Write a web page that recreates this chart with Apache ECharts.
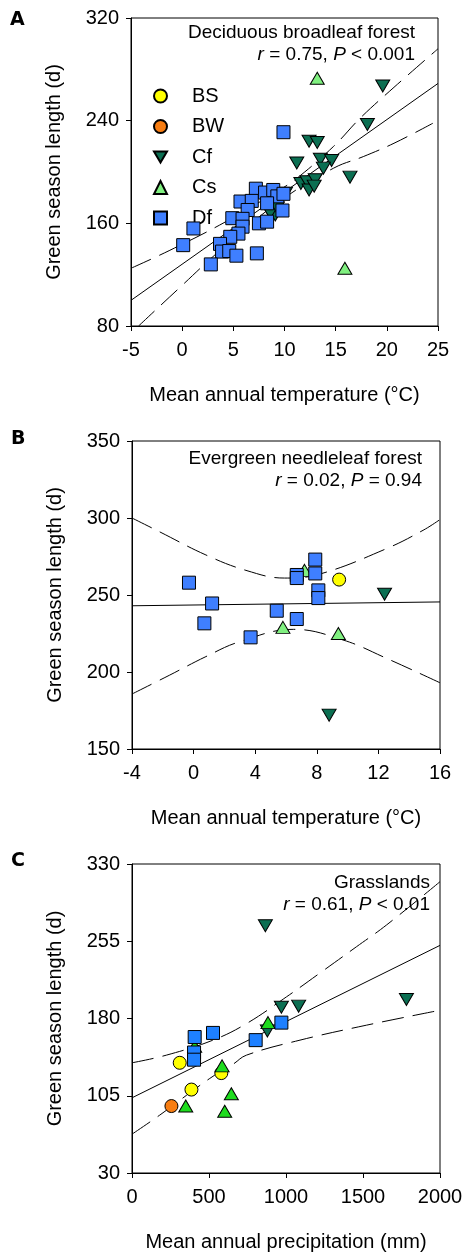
<!DOCTYPE html>
<html><head><meta charset="utf-8">
<script src="https://cdn.jsdelivr.net/npm/echarts@6/dist/echarts.min.js"></script>
<style>html,body{margin:0;padding:0;background:#fff}#c{width:466px;height:1255px}</style>
</head><body><div id="c"></div>
<script>
// ---------- Panel A: Deciduous broadleaf forest (x: mean annual temperature, y: green season length)
const A_Cf = [[19.6,267],[18.1,237],[12.4,224],[13.2,223],[11.2,207],[13.5,210],[14.6,209],[13.8,203],[16.4,196],[11.6,191],[12.2,192.4],[13.0,194],[12.4,186],[12.9,189],[10.1,183.4],[9.1,166.5],[8.45,170.4],[8.6,168],[9.3,172]];
const A_Cs = [[13.2,273],[15.9,125]];
const A_Df = [[9.9,231],[7.2,187],[8.1,184],[8.9,186],[9.3,181],[9.9,183],[5.7,177],[6.8,177.5],[8.3,175.6],[6.4,170.4],[9.8,170],[4.9,164],[5.9,163.5],[7.5,160],[8.3,161.3],[5.9,157.4],[1.1,156],[5.5,152],[4.7,149.5],[3.7,144],[0.1,143],[3.9,138],[4.6,138.4],[5.3,134.8],[7.3,136.6],[2.8,128]];
const A_fit = [[-5,100],[25,269]];
const A_upper = [[-5,125],[-1.2,139],[4.2,161],[9.5,186],[11.2,195],[14.8,220],[17.4,242],[20.7,266],[25,296]];
const A_lower = [[-4.26,80],[-0.5,108],[4,141],[9.5,177],[14.8,203],[17.7,212],[20.7,222.4],[24.5,238]];
const A_xTicks = [-5,0,5,10,15,20,25];
const A_yTicks = [80,160,240,320];

// ---------- Panel B: Evergreen needleleaf forest
const B_BS = [[9.45,260]];
const B_Cf = [[12.4,250.5],[8.8,172]];
const B_Cs = [[7.2,266],[5.8,229],[9.4,225]];
const B_Df = [[-0.3,258],[7.9,273],[6.7,263],[6.7,261],[7.9,264],[8.1,253],[8.1,248],[1.2,244.5],[0.7,231.6],[5.4,239.8],[6.7,234.4],[3.7,222.5]];
const B_fit = [[-4,243],[16,245.5]];
const B_upper = [[-4,300],[-2.2,291],[0.8,276],[3.4,266],[5.9,261],[8.2,263.6],[12.5,280],[14.9,292],[16,299]];
const B_lower = [[-4,185.7],[-1.55,198],[0.8,210],[3,219.7],[6.5,227.7],[9.7,220.8],[12.5,209],[16,193]];
const B_xTicks = [-4,0,4,8,12,16];
const B_yTicks = [150,200,250,300,350];

// ---------- Panel C: Grasslands (x: mean annual precipitation)
const C_BS = [[310,137],[580,127],[386,111]];
const C_BW = [[256,95]];
const C_Cf = [[866,270],[970,191],[1082,192],[1782,198.5],[879,168]];
const C_Cs = [[883,176],[407,153],[585,134],[349,95],[645,107],[602,90]];
const C_Df = [[970,176],[803,159],[526,166],[407,162],[403,147],[403,140]];
const C_fit = [[0,103],[2000,251]];
const C_upper = [[0,137],[223,144.4],[526,159],[743,175],[1003,201],[1219,224],[1457,249.6],[1652,270.7],[2000,312.8]];
const C_lower = [[0,67.7],[180,86.2],[505,121.8],[656,135.6],[743,144.4],[1091,159],[1522,173.5],[2000,188]];
const C_xTicks = [0,500,1000,1500,2000];
const C_yTicks = [30,105,180,255,330];

const FONT = '"Liberation Sans", Arial, sans-serif';
const COL = {BS:'#FFFF00', BW:'#F77D12', Cf:'#0B6F52', Cs:'#80F080', Df:'#3F7FFF'};
const COL_C = {Cs:'#1EDC1E', Df:'#1E80FF'};
const DOWN_TRI = 'path://M0,0 L20,0 L10,17 Z';
const SYM = {BS:'circle', BW:'circle', Cf:DOWN_TRI, Cs:'triangle', Df:'rect'};
const SIZE = {BS:13, BW:13, Cf:[14,12], Cs:[14,12], Df:13};

function scatter(name, data, gi, color){
  return {type:'scatter', name, data, xAxisIndex:gi, yAxisIndex:gi,
    symbol:SYM[name], symbolSize:SIZE[name],
    itemStyle:{color, borderColor:'#000', borderWidth:1, opacity:1},
    emphasis:{disabled:true}, z:5, animation:false};
}
function line(data, gi, dashed){
  return {type:'line', data, xAxisIndex:gi, yAxisIndex:gi, showSymbol:false, symbol:'none',
    smooth: dashed ? 0.4 : false,
    lineStyle:{color:'#000', width:1, type: dashed ? [22,9] : 'solid'},
    silent:true, z:2, animation:false, legendHoverLink:false};
}
function xAxis(gi, min, max, interval, ticks, name){
  return {type:'value', gridIndex:gi, min, max, interval,
    axisLine:{show:true, onZero:false, lineStyle:{color:'#000', width:1}},
    axisTick:{show:true, inside:false, length:5, lineStyle:{color:'#000'}, customValues:ticks},
    axisLabel:{color:'#000', fontSize:20, fontFamily:FONT, margin:14, customValues:ticks, showMinLabel:true, showMaxLabel:true,
      formatter:(v)=>String(v)},
    splitLine:{show:false},
    name, nameLocation:'middle', nameGap:59, nameTextStyle:{color:'#000', fontSize:20, fontFamily:FONT}};
}
function yAxis(gi, min, max, interval, ticks){
  return {type:'value', gridIndex:gi, min, max, interval,
    axisLine:{show:true, onZero:false, lineStyle:{color:'#000', width:1}},
    axisTick:{show:true, inside:false, length:5, lineStyle:{color:'#000'}, customValues:ticks},
    axisLabel:{color:'#000', fontSize:20, fontFamily:FONT, margin:12, customValues:ticks, showMinLabel:true, showMaxLabel:true,
      formatter:(v)=>String(v)},
    splitLine:{show:false},
    name:'Green season length (d)', nameLocation:'middle', nameGap:67,
    nameTextStyle:{color:'#000', fontSize:20, fontFamily:FONT}};
}
function note(x, y, title, stat){
  return [
    {type:'text', x, y, style:{text:title, x:0, y:0, align:'right', verticalAlign:'middle', font:'19px '+FONT, fill:'#000'}},
    {type:'text', x, y:y+22, style:{text:stat, x:0, y:0, align:'right', verticalAlign:'middle', font:'19px '+FONT, fill:'#000',
      rich:{i:{fontStyle:'italic', fontSize:19, fontFamily:FONT}}}}
  ];
}
function letter(t, x, y){
  return {type:'text', x, y, style:{text:t, font:'bold 19px "DejaVu Sans", sans-serif', fill:'#000', verticalAlign:'top'}};
}

const chart = echarts.init(document.getElementById('c'), null, {renderer:'canvas'});
chart.setOption({
  backgroundColor:'#fff',
  animation:false,
  grid:[
    {left:131, top:18, width:307, height:308, show:true, borderColor:'#000', borderWidth:1, backgroundColor:'transparent'},
    {left:132, top:441, width:308, height:308, show:true, borderColor:'#000', borderWidth:1, backgroundColor:'transparent'},
    {left:132, top:864, width:308, height:309, show:true, borderColor:'#000', borderWidth:1, backgroundColor:'transparent'}
  ],
  xAxis:[
    xAxis(0,-5,25,5,A_xTicks,'Mean annual temperature (°C)'),
    xAxis(1,-4,16,4,B_xTicks,'Mean annual temperature (°C)'),
    xAxis(2,0,2000,500,C_xTicks,'Mean annual precipitation (mm)')
  ],
  yAxis:[
    yAxis(0,80,320,80,A_yTicks),
    yAxis(1,150,350,50,B_yTicks),
    yAxis(2,30,330,75,C_yTicks)
  ],
  legend:{show:true, orient:'vertical', left:148, top:81, itemWidth:13, itemHeight:13, itemGap:10.5,
    data:['BS','BW','Cf','Cs','Df'], selectedMode:false,
    textStyle:{color:'#000', fontSize:20, fontFamily:FONT, padding:[0,0,0,20]}},
  graphic:[
    ...note(415,33,'Deciduous broadleaf forest','{i|r} = 0.75, {i|P} < 0.001'),
    ...note(422,459,'Evergreen needleleaf forest','{i|r} = 0.02, {i|P} = 0.94'),
    ...note(430,883,'Grasslands','{i|r} = 0.61, {i|P} < 0.01'),
    letter('A',10,11), letter('B',11,430), letter('C',11,852)
  ],
  series:[
    line(A_fit,0,false), line(A_upper,0,true), line(A_lower,0,true),
    line(B_fit,1,false), line(B_upper,1,true), line(B_lower,1,true),
    line(C_fit,2,false), line(C_upper,2,true), line(C_lower,2,true),
    scatter('BS',B_BS,1,COL.BS),
    scatter('BW',C_BW,2,COL.BW),
    scatter('Cf',A_Cf,0,COL.Cf),
    scatter('Cs',A_Cs,0,COL.Cs),
    scatter('Df',A_Df,0,COL.Df),
    scatter('Cf',B_Cf,1,COL.Cf),
    scatter('Cs',B_Cs,1,COL.Cs),
    scatter('Df',B_Df,1,COL.Df),
    scatter('BS',C_BS,2,COL.BS),
    scatter('Cf',C_Cf,2,COL.Cf),
    scatter('Cs',C_Cs,2,COL_C.Cs),
    scatter('Df',C_Df,2,COL_C.Df)
  ]
});
</script></body></html>
